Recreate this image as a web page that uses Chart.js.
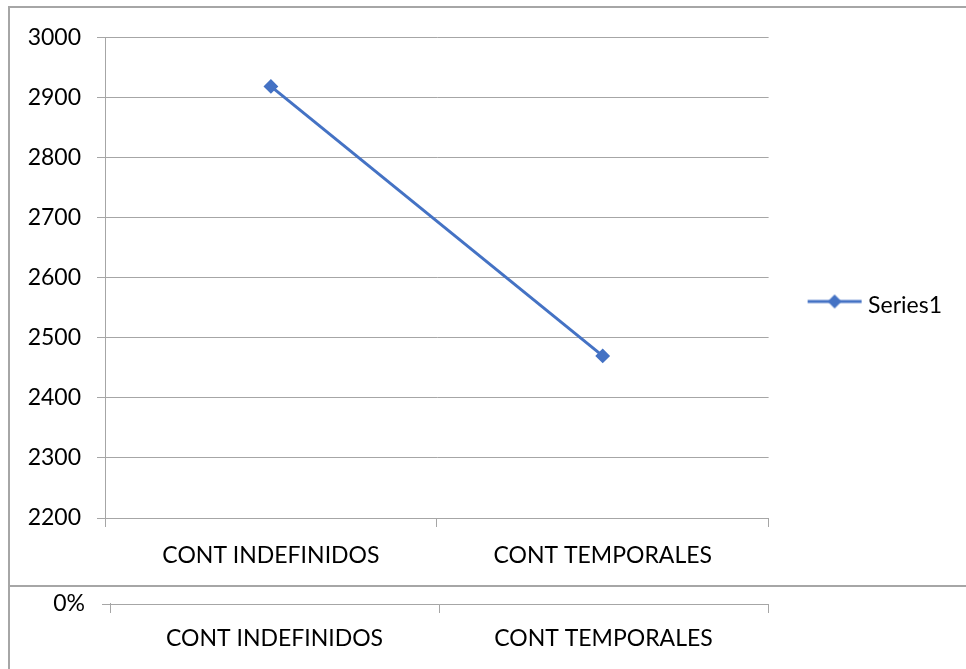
<!DOCTYPE html>
<html lang="en">
<head>
  <meta charset="UTF-8" />
  <title>Series1</title>
  <style>
    body {
      margin: 0;
      padding: 0;
      background: #fff;
      overflow: hidden;
    }
    .frame {
      position: absolute;
      left: 8px;
      top: 6px;
      width: 1000px;
      height: 577px;
      border: 2px solid #a6a6a6;
    }
    .frame2 {
      position: absolute;
      left: 8px;
      top: 587px;
      width: 1000px;
      height: 90px;
      border-left: 2px solid #a6a6a6;
    }
    .box {
      position: relative;
    }
  </style>
</head>
<body>
  <div class="frame">
    <div class="box" style="width:942px;height:577px"><canvas id="main"></canvas></div>
  </div>
  <div class="frame2">
    <div class="box" style="width:956px;height:96px;margin-top:-14px"><canvas id="pct"></canvas></div>
  </div>

  <script src="https://cdn.jsdelivr.net/npm/chart.js"></script>
  <script>
    const categories = ['CONT INDEFINIDOS', 'CONT TEMPORALES'];
    const series1 = [2919, 2470];
    const yMin = 2200;
    const yMax = 3000;
    const yStep = 100;
    const pctTicks = [0];

    const blue = '#4472C4';
    const grey = '#a6a6a6';
    const FONT = { family: 'Lato, "Open Sans", sans-serif', size: 23 };

    Chart.defaults.font = FONT;
    Chart.defaults.color = '#000';
    Chart.defaults.animation = false;

    // legend sample: line with diamond
    function legendMark() {
      const c = document.createElement('canvas');
      c.width = 56; c.height = 26;
      const g = c.getContext('2d');
      g.strokeStyle = blue;
      g.lineWidth = 3;
      g.beginPath(); g.moveTo(1, 9); g.lineTo(55, 9); g.stroke();
      g.fillStyle = blue;
      g.beginPath(); g.moveTo(28, 2); g.lineTo(35, 9); g.lineTo(28, 16); g.lineTo(21, 9); g.closePath(); g.fill();
      return c;
    }
    const mark = legendMark();

    new Chart(document.getElementById('main'), {
      type: 'line',
      data: {
        labels: categories,
        datasets: [{
          label: 'Series1',
          data: series1,
          borderColor: blue,
          backgroundColor: blue,
          borderWidth: 3,
          pointStyle: 'rectRot',
          pointRadius: 6,
          pointBorderWidth: 2,
          tension: 0
        }]
      },
      options: {
        responsive: true,
        maintainAspectRatio: false,
        layout: { padding: { top: 18, right: 0, left: 0, bottom: 0 } },
        plugins: {
          tooltip: { enabled: false },
          legend: {
            position: 'right',
            labels: {
              usePointStyle: true,
              pointStyleWidth: 44,
              padding: 44,
              generateLabels: chart => chart.data.datasets.map((ds, i) => ({
                text: ds.label,
                pointStyle: mark,
                fillStyle: blue,
                strokeStyle: blue,
                lineWidth: 0,
                datasetIndex: i
              }))
            }
          }
        },
        scales: {
          x: {
            offset: true,
            grid: { offset: true, drawOnChartArea: false, color: grey, tickLength: 9 },
            border: { color: grey },
            ticks: { padding: 15, maxRotation: 0 },
            afterFit: s => { s.height = 67; }
          },
          y: {
            min: yMin,
            max: yMax,
            grid: { color: grey, tickLength: 8 },
            border: { color: grey },
            ticks: { stepSize: yStep, padding: 16, callback: v => String(v) },
            afterFit: s => { s.width = 95; }
          }
        }
      }
    });

    new Chart(document.getElementById('pct'), {
      type: 'line',
      data: {
        labels: categories,
        datasets: [{ label: '', data: [] }]
      },
      options: {
        responsive: true,
        maintainAspectRatio: false,
        layout: { padding: { top: 0, right: 198, left: 0, bottom: 0 } },
        plugins: { legend: { display: false }, tooltip: { enabled: false } },
        scales: {
          x: {
            offset: true,
            grid: { offset: true, drawOnChartArea: false, color: grey, tickLength: 9 },
            border: { color: grey },
            ticks: { padding: 12, maxRotation: 0 },
            afterFit: s => { s.height = 65; }
          },
          y: {
            min: 0,
            max: 1,
            afterBuildTicks: s => { s.ticks = pctTicks.map(v => ({ value: v })); },
            grid: { color: grey, tickLength: 8 },
            border: { color: grey },
            ticks: { padding: 17, callback: v => v + '%' },
            afterFit: s => { s.width = 100; }
          }
        }
      }
    });
  </script>
</body>
</html>
